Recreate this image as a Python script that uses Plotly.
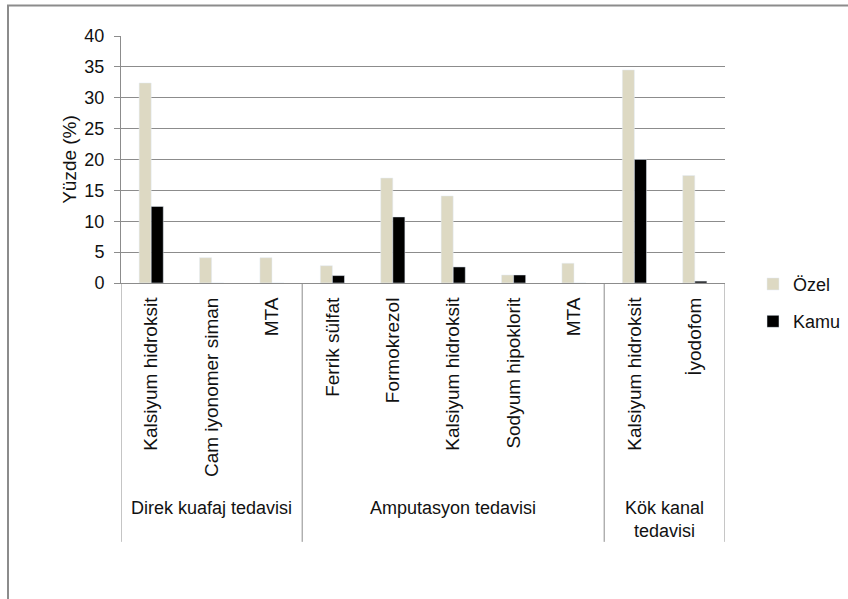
import plotly.graph_objects as go

groups = ["Direk kuafaj tedavisi", "Amputasyon tedavisi", "Kök kanal<br>tedavisi"]
group_sizes = [3, 5, 2]
categories = ["Kalsiyum hidroksit", "Cam iyonomer siman", "MTA",
              "Ferrik sülfat", "Formokrezol", "Kalsiyum hidroksit", "Sodyum hipoklorit", "MTA",
              "Kalsiyum hidroksit", "İyodofom"]
ozel = [32.4, 4.1, 4.1, 2.8, 17.0, 14.1, 1.3, 3.2, 34.5, 17.4]
kamu = [12.4, 0, 0, 1.2, 10.7, 2.6, 1.3, 0, 20.0, 0.3]
y_ticks = [0, 5, 10, 15, 20, 25, 30, 35, 40]

W, H = 848, 599
L, R, T, B = 121, 725, 35.5, 283.3
pw, ph = R - L, B - T

def px(x):
    return (x - L) / pw

def py(y):
    return (B - y) / ph

FONT = "Liberation Sans, Arial, sans-serif"
TXT = "#111111"
xs = list(range(len(categories)))

fig = go.Figure()
fig.add_trace(go.Bar(x=xs, y=ozel, name="Özel", marker_color="#DDD9C3",
                     legendgroup="a"))
fig.add_trace(go.Bar(x=xs, y=kamu, name="Kamu", marker_color="#000000",
                     legendgroup="b"))

shapes = []
annotations = []
start = 0
bounds = [-0.5]
for g, n in zip(groups, group_sizes):
    center = start + (n - 1) / 2
    annotations.append(dict(x=center, xref="x", y=py(497), yref="paper",
                            text=g, showarrow=False, yanchor="top",
                            font=dict(family=FONT, size=18, color=TXT)))
    start += n
    bounds.append(start - 0.5)
for b in bounds:
    shapes.append(dict(type="line", xref="x", yref="paper", x0=b, x1=b,
                       y0=0, y1=py(543), line=dict(color="#8c8c8c", width=1)))
shapes.append(dict(type="rect", xref="paper", yref="paper",
                   x0=px(8), x1=px(W + 20), y0=py(H + 20), y1=py(5),
                   line=dict(color="#8c8c8c", width=2), layer="below"))

fig.update_layout(
    width=W, height=H,
    margin=dict(l=L, r=W - R, t=T, b=H - B, autoexpand=False),
    paper_bgcolor="white", plot_bgcolor="white",
    barmode="group", bargap=0.6, bargroupgap=0,
    font=dict(family=FONT, size=18, color=TXT),
    xaxis=dict(tickmode="array", tickvals=xs, ticktext=categories,
               tickangle=-90, range=[-0.5, len(categories) - 0.5],
               showgrid=False, showline=True, linecolor="#8c8c8c", linewidth=1,
               ticks="", zeroline=False, automargin=False, ticklabelstandoff=6,
               tickfont=dict(family=FONT, size=19, color=TXT)),
    yaxis=dict(range=[0, 40], tickvals=y_ticks, showgrid=True,
               gridcolor="#8c8c8c", gridwidth=1, showline=True,
               linecolor="#8c8c8c", linewidth=1, ticks="outside", ticklen=6,
               tickcolor="#8c8c8c", zeroline=False, automargin=False,
               ticklabelstandoff=6,
               title=dict(text="Yüzde (%)", standoff=2,
                          font=dict(family=FONT, size=19, color=TXT)),
               tickfont=dict(family=FONT, size=18, color=TXT)),
    legend=dict(x=px(753), y=py(266), xanchor="left", yanchor="top",
                tracegroupgap=11, font=dict(family=FONT, size=18, color=TXT),
                bgcolor="rgba(0,0,0,0)"),
    shapes=shapes, annotations=annotations,
)

fig.write_html("out.html")
